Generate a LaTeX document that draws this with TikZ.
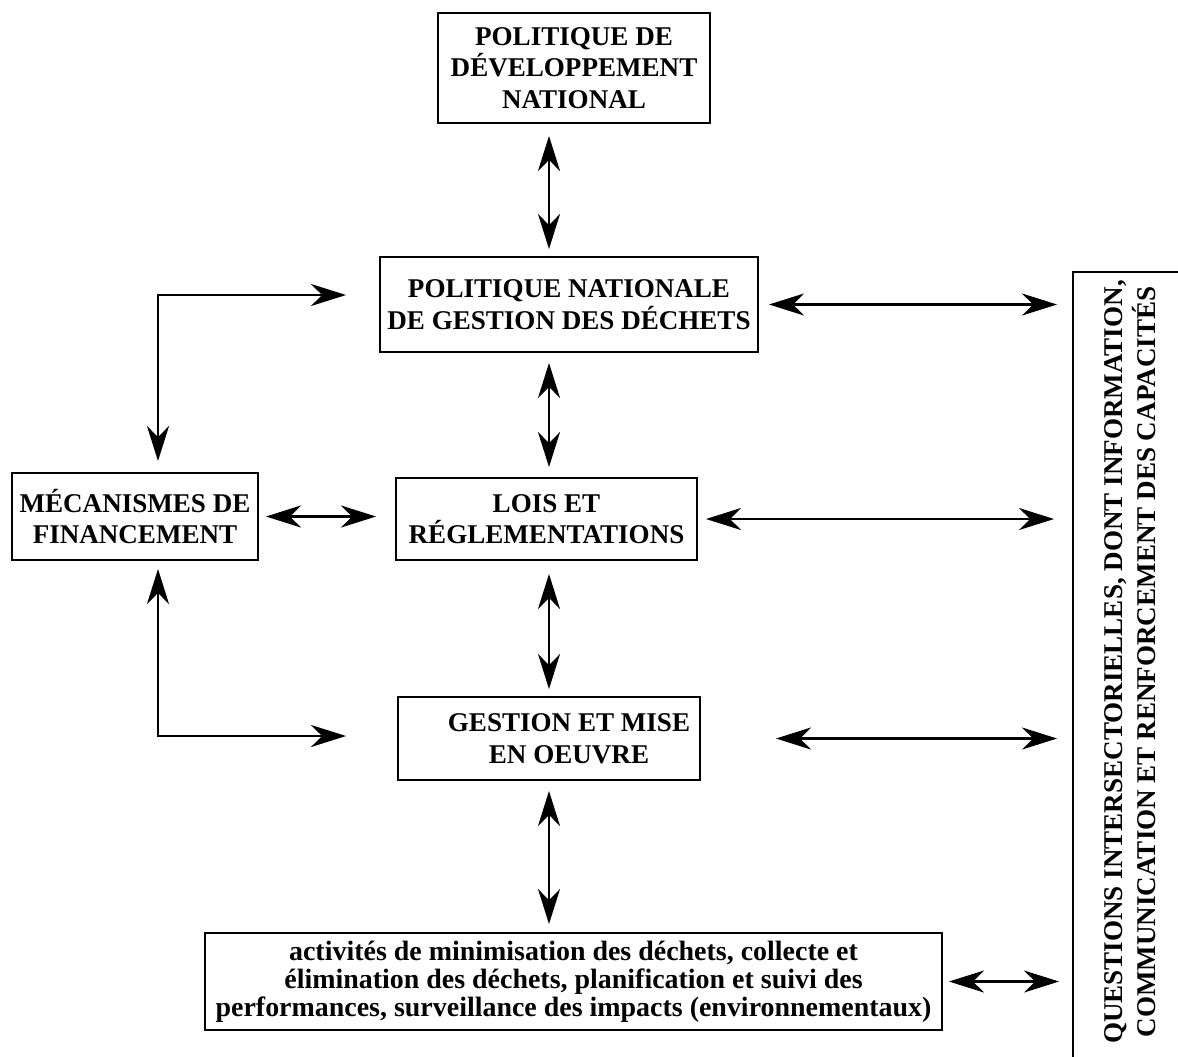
\documentclass[tikz,border=0pt]{standalone}
\usepackage{fontspec}
\setmainfont{Liberation Serif}
\usetikzlibrary{arrows.meta}

\tikzset{
  box/.style={draw, line width=1.1pt, inner sep=0pt, align=center,
    font=\bfseries\fontsize{15.4}{18}\selectfont},
  biarrow/.style={line width=1.3pt,
    {Stealth[length=7mm, width=4.4mm, inset=2.2mm]}-{Stealth[length=7mm, width=4.4mm, inset=2.2mm]}}
}

\begin{document}
\begin{tikzpicture}[x=0.2mm, y=-0.2mm]
        \path[use as bounding box, clip] (0,0) rectangle (1178,1056);

        \node[box, minimum width=54.4mm, minimum height=22mm] (devnat) at (574,68)
          {POLITIQUE DE\\DÉVELOPPEMENT\\NATIONAL};
        \node[box, minimum width=75.6mm, minimum height=19mm] (gestpol) at (569,304.5)
          {POLITIQUE NATIONALE\\DE GESTION DES DÉCHETS};
        \node[box, minimum width=60.2mm, minimum height=16.4mm] (loiregl) at (546.5,519)
          {LOIS ET\\RÉGLEMENTATIONS};
        \node[box, minimum width=49.2mm, minimum height=17.4mm] (financ) at (135,516.5)
          {MÉCANISMES DE\\FINANCEMENT};
        \node[box, minimum width=60.4mm, minimum height=16.6mm] (gestoeuvre) at (549,738.5)
          {\hspace*{8mm}GESTION ET MISE\\\hspace*{8mm}EN OEUVRE};
        \node[box, minimum width=147.4mm, minimum height=19.4mm,
          font=\bfseries\fontsize{15.9}{15.8}\selectfont] (activ) at (573.5,981.5)
          {activités de minimisation des déchets, collecte et\\
           élimination des déchets, planification et suivi des\\
           performances, surveillance des impacts (environnementaux)};

        % boite de droite, coupee par le bord
        \node[box, minimum width=25.4mm, minimum height=161.6mm] (crossbox) at (1136.5,676) {};
        \node[align=center, rotate=90, inner sep=0pt,
          font=\bfseries\fontsize{15.4}{18.6}\selectfont] (crosstxt) at (1130,662)
          {QUESTIONS INTERSECTORIELLES, DONT INFORMATION,\\
           COMMUNICATION ET RENFORCEMENT DES CAPACITÉS};

        % fleches verticales
        \draw[biarrow, shorten <=2.4mm, shorten >=1.4mm]
          (devnat.south -| gestoeuvre) -- (gestpol.north -| gestoeuvre);
        \draw[biarrow, shorten <=2mm, shorten >=2mm]
          (gestpol.south -| gestoeuvre) -- (loiregl.north -| gestoeuvre);
        \draw[biarrow, shorten <=2.6mm, shorten >=1.4mm]
          (loiregl.south -| gestoeuvre) -- (gestoeuvre.north);
        \draw[biarrow, shorten <=2mm, shorten >=1.6mm]
          (gestoeuvre.south) -- (activ.north -| gestoeuvre);

        % fleches vers la droite
        \draw[biarrow, shorten <=2mm, shorten >=3mm]
          (gestpol.east) -- (gestpol.east -| crossbox.west);
        \draw[biarrow, shorten <=1.6mm, shorten >=3.6mm]
          (loiregl.east) -- (loiregl.east -| crossbox.west);
        \draw[biarrow, shorten <=15mm, shorten >=3mm]
          (gestoeuvre.east) -- (gestoeuvre.east -| crossbox.west);
        \draw[biarrow, shorten <=1.2mm, shorten >=2.6mm]
          (activ.east) -- (activ.east -| crossbox.west);

        % financement
        \coordinate (lxtop) at (158,295);
        \coordinate (lxbot) at (158,736);
        \draw[biarrow, shorten <=2.2mm, shorten >=6.6mm]
          (financ.north -| lxtop) |- (lxtop -| gestpol.west);
        \draw[biarrow, shorten <=1.6mm, shorten >=10.2mm]
          (financ.south -| lxbot) |- (lxbot -| gestoeuvre.west);
        \draw[biarrow, shorten <=1.4mm, shorten >=3.8mm]
          (financ.east) -- (financ.east -| loiregl.west);

    \end{tikzpicture}
\end{document}
